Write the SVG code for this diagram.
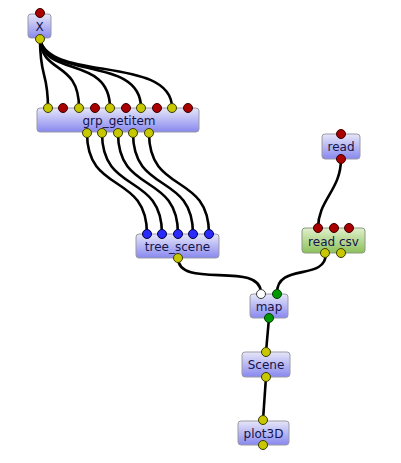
<svg xmlns="http://www.w3.org/2000/svg" width="401" height="463" viewBox="0 0 401 463">
<defs>
<linearGradient id="gb" x1="0" y1="0" x2="0" y2="1">
<stop offset="0" stop-color="#e6e6f8"/>
<stop offset="1" stop-color="#8888f0"/>
</linearGradient>
<linearGradient id="gg" x1="0" y1="0" x2="0" y2="1">
<stop offset="0" stop-color="#e2f0cc"/>
<stop offset="1" stop-color="#8cc05a"/>
</linearGradient>
<style>
.box{fill:url(#gb);stroke:#9a9aa6;stroke-width:1}
.gbox{fill:url(#gg);stroke:#8a9a80;stroke-width:1}
.lbl{font-family:"DejaVu Sans",sans-serif;font-size:12px;fill:#14144a;text-anchor:middle}
.y{fill:#c8c800;stroke:#3a3a00;stroke-width:1}
.r{fill:#aa0000;stroke:#3a0000;stroke-width:1}
.b{fill:#2a2aff;stroke:#00003a;stroke-width:1}
.g{fill:#009a00;stroke:#003a00;stroke-width:1}
.w{fill:#ffffff;stroke:#3a3a3a;stroke-width:1}
.e{fill:none;stroke:#000;stroke-width:2.6}
</style>
</defs>
<g id="connectors">
<path class="e" d="M40,39 C40,80 48,70 48,108"/>
<path class="e" d="M40,39 C42,75 79,60 79,108"/>
<path class="e" d="M40,39 C44,78 110,55 110,108"/>
<path class="e" d="M40,39 C46,80 141,55 141,108"/>
<path class="e" d="M40,39 C48,82 172,55 172,108"/>
<path class="e" d="M87,133 C87,195 147,172 147,234"/>
<path class="e" d="M102,133 C102,195 162,172 162,234"/>
<path class="e" d="M118,133 C118,195 178,172 178,234"/>
<path class="e" d="M133,133 C133,195 193,172 193,234"/>
<path class="e" d="M149,133 C149,195 209,172 209,234"/>
<path class="e" d="M178,258 C178,290 261,260 261,293"/>
<path class="e" d="M341,159 C341,190 318,200 318,228"/>
<path class="e" d="M326,253 C326,282 277,262 277,293"/>
<path class="e" d="M269,318 L266,352"/>
<path class="e" d="M266,377 L263,420"/>
</g>
<g id="node-X">
<rect class="box" x="28" y="14" width="23" height="24" rx="3"/>
<text class="lbl" x="39.5" y="31">X</text>
<circle class="r" cx="40" cy="13" r="4.5"/>
<circle class="y" cx="40" cy="39" r="4.5"/>
</g>
<g id="node-grp_getitem">
<rect class="box" x="37" y="108" width="162" height="24" rx="3"/>
<text class="lbl" x="119" y="125">grp_getitem</text>
<circle class="y" cx="48" cy="108" r="4.5"/>
<circle class="r" cx="63" cy="108" r="4.5"/>
<circle class="y" cx="79" cy="108" r="4.5"/>
<circle class="r" cx="95" cy="108" r="4.5"/>
<circle class="y" cx="110" cy="108" r="4.5"/>
<circle class="r" cx="126" cy="108" r="4.5"/>
<circle class="y" cx="141" cy="108" r="4.5"/>
<circle class="r" cx="157" cy="108" r="4.5"/>
<circle class="y" cx="172" cy="108" r="4.5"/>
<circle class="r" cx="188" cy="108" r="4.5"/>
<circle class="y" cx="87" cy="133" r="4.5"/>
<circle class="y" cx="102" cy="133" r="4.5"/>
<circle class="y" cx="118" cy="133" r="4.5"/>
<circle class="y" cx="133" cy="133" r="4.5"/>
<circle class="y" cx="149" cy="133" r="4.5"/>
</g>
<g id="node-tree_scene">
<rect class="box" x="136" y="234" width="83" height="24" rx="3"/>
<text class="lbl" x="177.5" y="251">tree_scene</text>
<circle class="b" cx="147" cy="234" r="4.5"/>
<circle class="b" cx="162" cy="234" r="4.5"/>
<circle class="b" cx="178" cy="234" r="4.5"/>
<circle class="b" cx="193" cy="234" r="4.5"/>
<circle class="b" cx="209" cy="234" r="4.5"/>
<circle class="y" cx="178" cy="258" r="4.5"/>
</g>
<g id="node-read">
<rect class="box" x="322" y="134" width="38" height="25" rx="3"/>
<text class="lbl" x="341" y="151">read</text>
<circle class="r" cx="341" cy="134" r="4.5"/>
<circle class="r" cx="341" cy="159" r="4.5"/>
</g>
<g id="node-read_csv">
<rect class="gbox" x="302" y="228" width="63" height="25" rx="3"/>
<text class="lbl" x="333.5" y="246">read csv</text>
<circle class="r" cx="318" cy="228" r="4.5"/>
<circle class="r" cx="334" cy="228" r="4.5"/>
<circle class="r" cx="349" cy="228" r="4.5"/>
<circle class="y" cx="325" cy="253" r="4.5"/>
<circle class="y" cx="341" cy="253" r="4.5"/>
</g>
<g id="node-map">
<rect class="box" x="250" y="294" width="38" height="24" rx="3"/>
<text class="lbl" x="269" y="311">map</text>
<circle class="w" cx="261" cy="294" r="4.5"/>
<circle class="g" cx="277" cy="294" r="4.5"/>
<circle class="g" cx="269" cy="318" r="4.5"/>
</g>
<g id="node-Scene">
<rect class="box" x="242" y="352" width="48" height="25" rx="3"/>
<text class="lbl" x="266" y="369">Scene</text>
<circle class="y" cx="266" cy="352" r="4.5"/>
<circle class="y" cx="266" cy="377" r="4.5"/>
</g>
<g id="node-plot3D">
<rect class="box" x="238" y="421" width="51" height="24" rx="3"/>
<text class="lbl" x="263.5" y="438">plot3D</text>
<circle class="y" cx="263" cy="420" r="4.5"/>
<circle class="y" cx="263" cy="445" r="4.5"/>
</g>
</svg>
